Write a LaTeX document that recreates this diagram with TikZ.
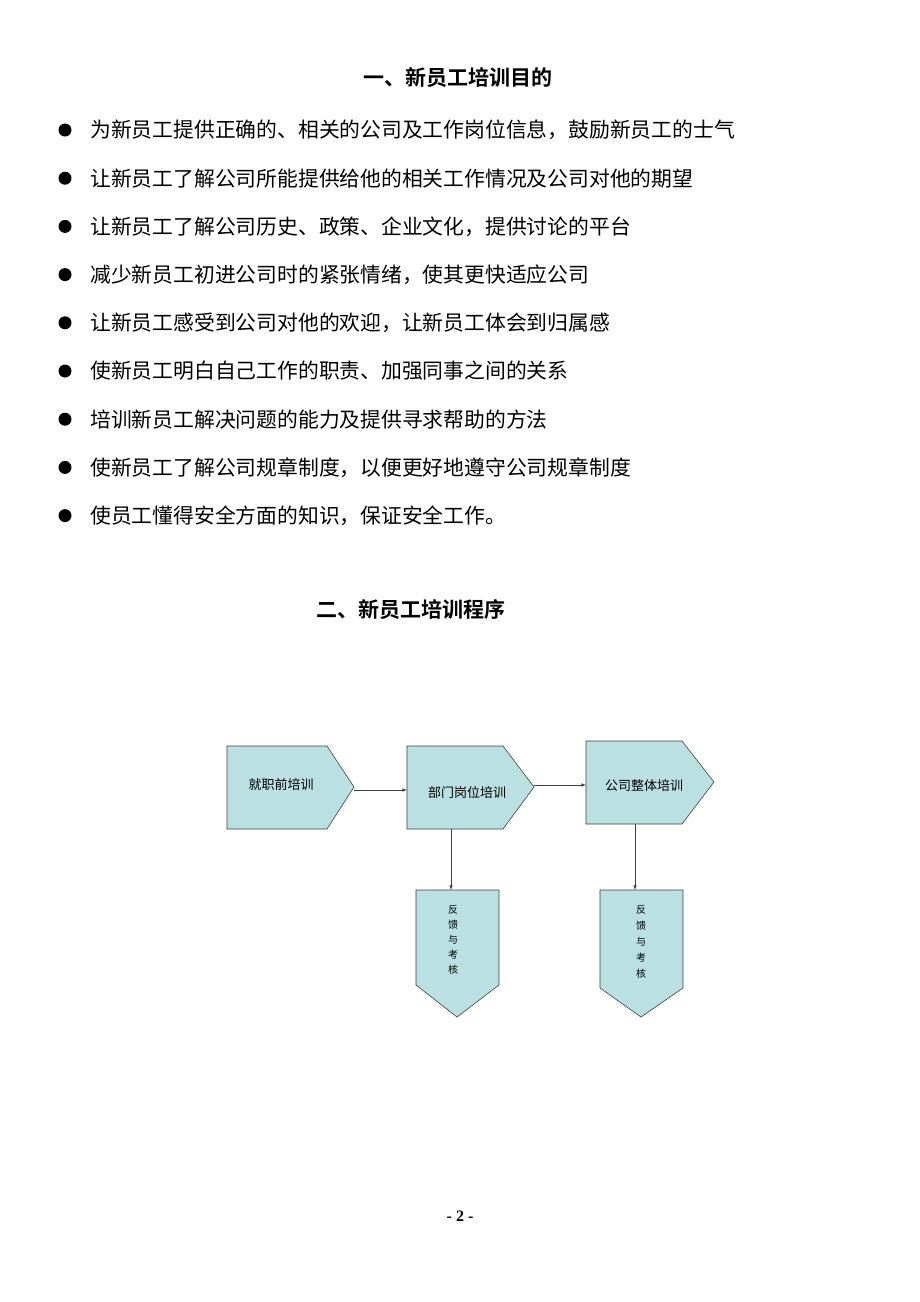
\documentclass[tikz,border=0pt]{standalone}
\usepackage{fontspec}
\setmainfont{Liberation Serif}
\newfontfamily\cjk{Noto Sans CJK SC}
\newfontfamily\cjkb{Noto Sans CJK SC Bold}
\begin{document}
\begin{tikzpicture}[x=1pt,y=-1pt,
  bodytext/.style={anchor=west,inner sep=0pt,font=\cjk\fontsize{20.8}{24}\selectfont},
  head/.style={inner sep=0pt,font=\cjkb\fontsize{21}{24}\selectfont},
  shp/.style={draw=black!75,fill={rgb,255:red,186;green,224;blue,226},line width=0.6pt},
  lbl/.style={font=\cjk\fontsize{13}{15}\selectfont,inner sep=0pt},
  vlbl/.style={font=\cjk\fontsize{10}{13}\selectfont,inner sep=0pt,align=center},
  conn/.style={draw=black!75,line width=0.6pt,-latex}]
\useasboundingbox[fill=white] (0,0) rectangle (920,1302);
\node[head] (t1) at (458,78) {一、新员工培训目的};
\foreach \t [count=\i] in {为新员工提供正确的、相关的公司及工作岗位信息，鼓励新员工的士气,
 让新员工了解公司所能提供给他的相关工作情况及公司对他的期望,
 让新员工了解公司历史、政策、企业文化，提供讨论的平台,
 减少新员工初进公司时的紧张情绪，使其更快适应公司,
 让新员工感受到公司对他的欢迎，让新员工体会到归属感,
 使新员工明白自己工作的职责、加强同事之间的关系,
 培训新员工解决问题的能力及提供寻求帮助的方法,
 使新员工了解公司规章制度，以便更好地遵守公司规章制度,
 使员工懂得安全方面的知识，保证安全工作。}{
  \pgfmathsetmacro\yy{130+48.2*(\i-1)}
  \fill (65,\yy) circle (6.5);
  \node[bodytext] (b\i) at (90,\yy) {\t};
}
\node[head] (t2) at (411,610) {二、新员工培训程序};
\draw[shp] (227,746) -- (327,746) -- (354,787) -- (327,829) -- (227,829) -- cycle;
\draw[shp] (407,746) -- (503,746) -- (534,787) -- (503,829) -- (407,829) -- cycle;
\draw[shp] (586,741) -- (682,741) -- (714,782) -- (682,824) -- (586,824) -- cycle;
\draw[shp] (416,890) -- (499,890) -- (499,985) -- (457,1017) -- (416,985) -- cycle;
\draw[shp] (600,890) -- (683,890) -- (683,988) -- (641,1017) -- (600,988) -- cycle;
\node[lbl] (n1) at (281,785) {就职前培训};
\node[lbl] (n2) at (467,793) {部门岗位培训};
\node[lbl] (n3) at (644,786) {公司整体培训};
\node[vlbl] (n4) at (453,940) {反\\[2pt]馈\\[2pt]与\\[2pt]考\\[2pt]核};
\node[vlbl] (n5) at (641,942) {反\\[3pt]馈\\[3pt]与\\[3pt]考\\[3pt]核};
\coordinate (a1s) at (354,790); \coordinate (a1e) at (407,790);
\coordinate (a2s) at (534,785); \coordinate (a2e) at (586,785);
\coordinate (d1s) at (451,829); \coordinate (d1e) at (451,890);
\coordinate (d2s) at (635,824); \coordinate (d2e) at (635,890);
\draw[conn] (a1s) -- (a1e);
\draw[conn] (a2s) -- (a2e);
\draw[conn] (d1s) -- (d1e);
\draw[conn] (d2s) -- (d2e);
\node[font=\bfseries\fontsize{16}{18}\selectfont] (pg) at (460,1216) {- 2 -};
\end{tikzpicture}
\end{document}
